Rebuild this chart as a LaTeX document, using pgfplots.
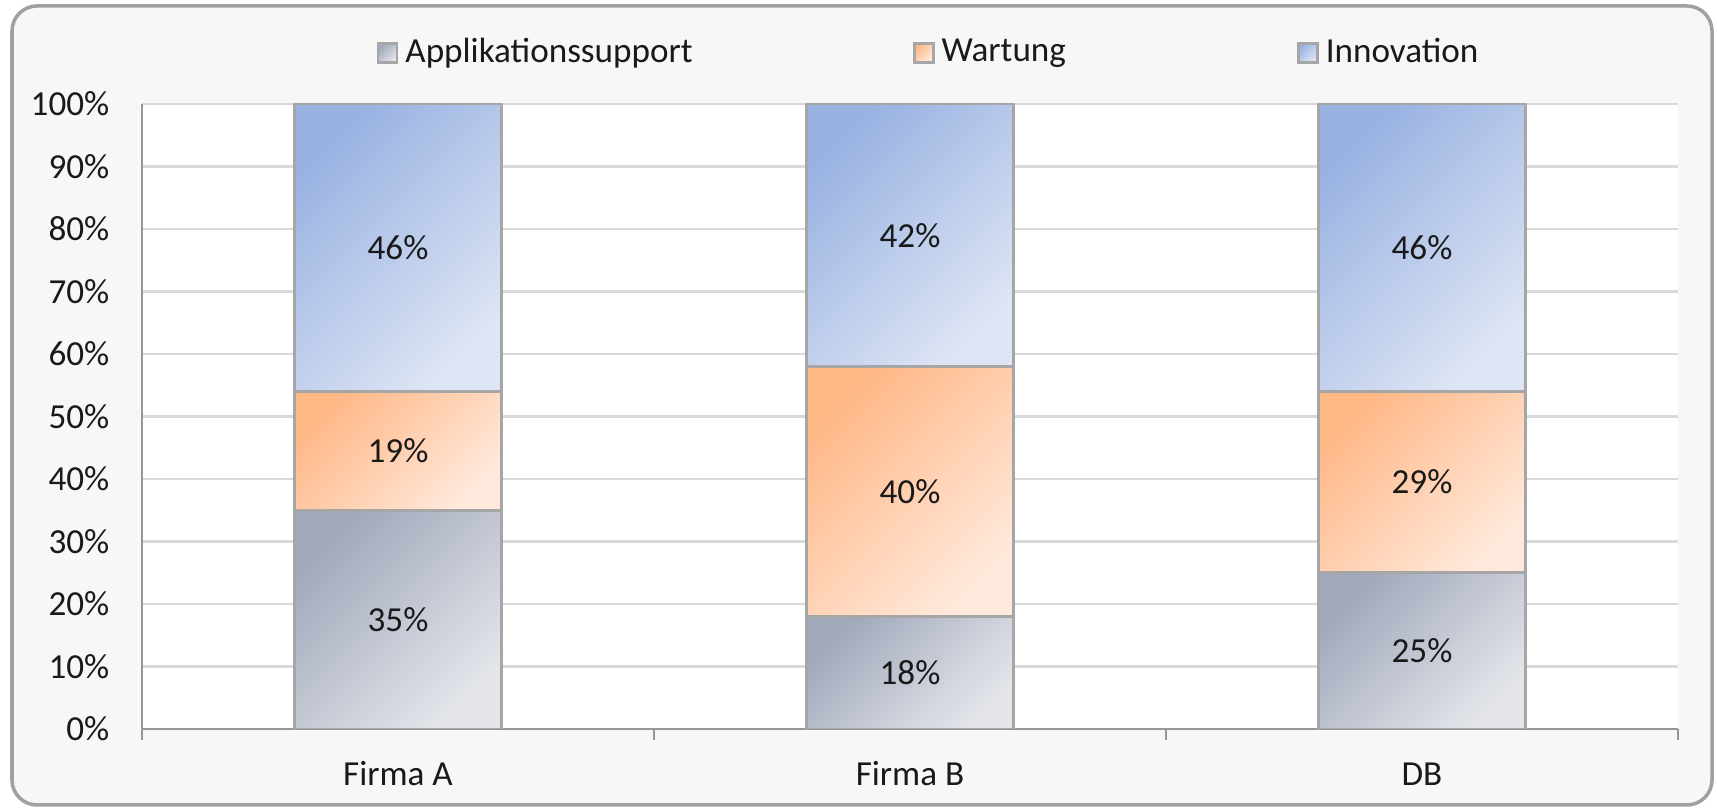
\documentclass[border=0pt]{standalone}
\usepackage{pgfplots}
\pgfplotsset{compat=1.18}
\usepackage{fontspec}
\setmainfont{Carlito}

\definecolor{frameGray}{RGB}{160,160,160}
\definecolor{frameFill}{RGB}{247,247,247}
\definecolor{axisGray}{RGB}{150,150,150}
\definecolor{gridGray}{RGB}{217,217,217}
\definecolor{barEdge}{RGB}{166,166,166}
\definecolor{appDark}{RGB}{160,168,186}
\definecolor{appLight}{RGB}{228,230,235}
\definecolor{warDark}{RGB}{255,183,134}
\definecolor{warLight}{RGB}{255,233,220}
\definecolor{innDark}{RGB}{153,178,226}
\definecolor{innLight}{RGB}{222,229,244}
\definecolor{txt}{RGB}{25,25,25}

% one axis per company, so that every bar gets its own gradient
\pgfplotsset{
  common/.style={
    at={(0,0)}, anchor=south west,
    scale only axis,
    width=15.36cm, height=6.25cm,
    ybar stacked,
    bar width=2.07cm,
    xmin=-0.5, xmax=2.5,
    ymin=0, ymax=100,
    /pgf/number format/assume math mode=true,
    nodes near coords={\pgfmathprintnumber{\pgfplotspointmeta}\%},
    every node near coord/.append style={anchor=center, text=txt,
        font=\fontsize{10}{12}\selectfont},
  },
  app/.style={draw=barEdge, line width=0.8pt, top color=appDark, bottom color=appLight, shading angle=45},
  war/.style={draw=barEdge, line width=0.8pt, top color=warDark, bottom color=warLight, shading angle=45},
  inn/.style={draw=barEdge, line width=0.8pt, top color=innDark, bottom color=innLight, shading angle=45},
}

\begin{document}
\begin{tikzpicture}
\path[use as bounding box] (-1.42,-0.80) rectangle (15.75,7.29);
\draw[rounded corners=0.25cm, line width=1pt, draw=frameGray, fill=frameFill]
  (-1.30,-0.76) rectangle (15.70,7.23);

\begin{axis}[
    common,
    xtick={0,1,2},
    xticklabels={Firma A, Firma B, DB},
    minor xtick={-0.5,0.5,1.5,2.5},
    ytick={0,10,...,100},
    yticklabel={\pgfmathprintnumber{\tick}\%},
    major tick length=0pt,
    minor tick length=0.11cm,
    tick align=outside,
    tick style={axisGray, line width=0.8pt},
    axis x line*=bottom,
    axis y line*=left,
    axis line style={axisGray, line width=0.8pt},
    axis background/.style={fill=white},
    ymajorgrids,
    grid style={gridGray, line width=0.7pt},
    tick label style={text=txt, font=\fontsize{10}{12}\selectfont},
    yticklabel style={anchor=east, inner sep=0pt, xshift=-0.32cm},
    xticklabel style={anchor=center, yshift=-0.45cm},
    legend columns=3,
    legend style={at={(0.1523,1.0816)}, anchor=west, draw=none, fill=none,
        inner sep=0pt, font=\fontsize{10}{12}\selectfont, text=txt,
        nodes={inner sep=0pt, anchor=west},
        /tikz/every odd column/.style={column sep=0.07cm},
        /tikz/column 2/.style={column sep=2.20cm},
        /tikz/column 4/.style={column sep=2.31cm}},
    legend image code/.code={
        \draw[#1, line width=0.8pt] (0cm,-0.095cm) rectangle (0.19cm,0.095cm);
    },
]
\addplot[app] coordinates {(0,35)};
\addplot[war] coordinates {(0,19)};
\addplot[inn] coordinates {(0,46)};
\legend{Applikationssupport, Wartung, Innovation}
\end{axis}

\begin{axis}[common, hide axis]
\addplot[app] coordinates {(1,18)};
\addplot[war] coordinates {(1,40)};
\addplot[inn] coordinates {(1,42)};
\end{axis}

\begin{axis}[common, hide axis]
\addplot[app] coordinates {(2,25)};
\addplot[war] coordinates {(2,29)};
\addplot[inn] coordinates {(2,46)};
\end{axis}
\end{tikzpicture}
\end{document}
